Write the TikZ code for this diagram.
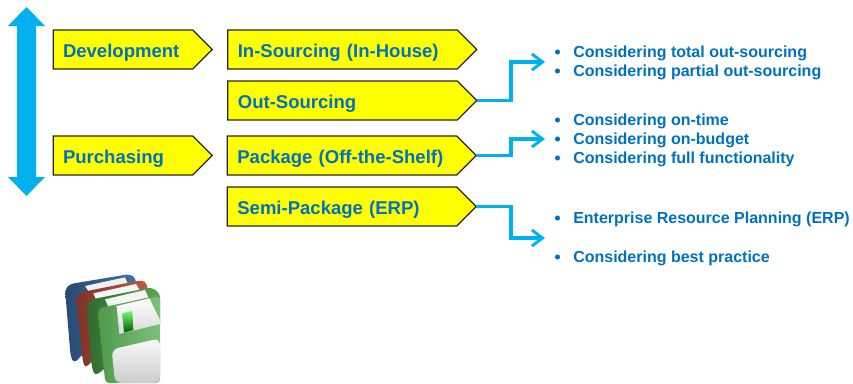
\documentclass[tikz,border=0pt]{standalone}
\usepackage{fontspec}
\setmainfont{Liberation Sans}
\usetikzlibrary{arrows.meta,shapes.symbols}
\definecolor{tblue}{HTML}{0070C0}
\definecolor{cy}{HTML}{00B0F0}
\definecolor{yel}{HTML}{FFFF00}
\definecolor{dbA}{HTML}{3F74A6}
\definecolor{dbB}{HTML}{274A72}
\definecolor{drA}{HTML}{BF5B45}
\definecolor{drB}{HTML}{7E3325}
\definecolor{dgA}{HTML}{5BA653}
\definecolor{dgB}{HTML}{2F6B2E}
\definecolor{fgA}{HTML}{4E9A4B}
\definecolor{fgB}{HTML}{7FC07A}
\tikzset{
 x=0.75pt,y=-0.75pt,
 tag/.style={signal,signal to=east,signal pointer angle=90,draw=black!85,line width=1pt,fill=yel,minimum height=29.25pt,inner sep=0pt,outer sep=0pt,text=tblue,font=\bfseries\fontsize{13.9}{15}\selectfont,align=left,text height=15.8pt,text depth=3.3pt},
 short/.style={tag,minimum width=119.25pt,text width=90pt},
 long/.style={tag,minimum width=186.75pt,text width=157pt},
 link/.style={cy,line width=2.3pt,-{Straight Barb[length=8pt,width=12pt,line width=2.2pt]}},
 item/.style={anchor=base west,inner sep=0pt,text=tblue,font=\bfseries\fontsize{12}{14}\selectfont},
 dot/.style={circle,fill=tblue,inner sep=0pt,minimum size=3.8pt},
}
\begin{document}
\begin{tikzpicture}
\useasboundingbox[clip] (0,0) rectangle (853,383);
\fill[cy] (26.5,7) -- (45,26) -- (36,26) -- (36,177) -- (45,177) -- (26.5,196) -- (8,177) -- (17,177) -- (17,26) -- (8,26) -- cycle;
\node[short] (dev) at (123,49.5) {Development};
\node[short] (pur) at (123,155.5) {Purchasing};
\node[long] (ins) at (342.5,49.5) {In-Sourcing (In-House)};
\node[long] (out) at (342.5,100.5) {Out-Sourcing};
\node[long] (pac) at (342,155.5) {Package (Off-the-Shelf)};
\node[long] (sem) at (342,206.5) {Semi-Package (ERP)};
\coordinate (a1) at (545,62);
\coordinate (a2) at (545,139);
\coordinate (a3) at (545,238);
\draw[link] (out.east) -- (511,100.5) -- (511,62) -- (a1);
\draw[link] (pac.east) -- (511,155.5) -- (511,139) -- (a2);
\draw[link] (sem.east) -- (511,206.5) -- (511,238) -- (a3);
\foreach \n/\y/\t in {i1/52/Considering total out-sourcing,i2/71/Considering partial out-sourcing,i3/120/Considering on-time,i4/139/Considering on-budget,i5/158/Considering full functionality,i6/218/Enterprise Resource Planning (ERP),i7/257/Considering best practice}{
 \node[dot] (d\n) at (557.5,\y) {};
 \node[item,yshift=-3.9pt] (\n) at (573,\y) {\t};
}
\begin{scope}[shift={(50,260)},x=0.25pt,y=-0.25pt]
 % blue disc
 \shade[left color=dbB,right color=dbA,rounded corners=3pt] (45,88) -- (60,72) -- (240,42) -- (258,55) -- (258,120) -- (72,310) -- (62,290) -- cycle;
 \fill[gray!12] (105,78) -- (225,52) -- (235,75) -- (120,100) -- cycle;
 % red disc
 \shade[left color=drB,right color=drA,rounded corners=3pt] (78,110) -- (92,97) -- (275,60) -- (292,70) -- (292,140) -- (105,325) -- (98,300) -- cycle;
 \fill[gray!8] (130,100) -- (258,72) -- (270,92) -- (140,122) -- cycle;
 % dark green disc
 \shade[left color=dgB,right color=dgA,rounded corners=3pt] (110,130) -- (125,118) -- (305,82) -- (330,100) -- (330,200) -- (135,348) -- (125,320) -- cycle;
 \fill[gray!8] (165,118) -- (285,90) -- (295,112) -- (175,140) -- cycle;
 % front disc
 \shade[left color=fgA,right color=fgB,rounded corners=3pt] (143,152) -- (155,142) -- (330,108) -- (330,369) -- (166,369) -- cycle;
 \shade[top color=white,bottom color=gray!30] (200,138) -- (298,115) -- (330,180) -- (330,192) -- (208,222) -- cycle;
 \shade[top color=green!55!white,bottom color=green!35!black] (217,160) -- (247,152) -- (250,210) -- (222,218) -- cycle;
 \shade[top color=white!95!gray,bottom color=gray!40,rounded corners=5pt] (185,268) -- (330,235) -- (330,369) -- (195,369) -- cycle;
\end{scope}
\end{tikzpicture}
\end{document}
